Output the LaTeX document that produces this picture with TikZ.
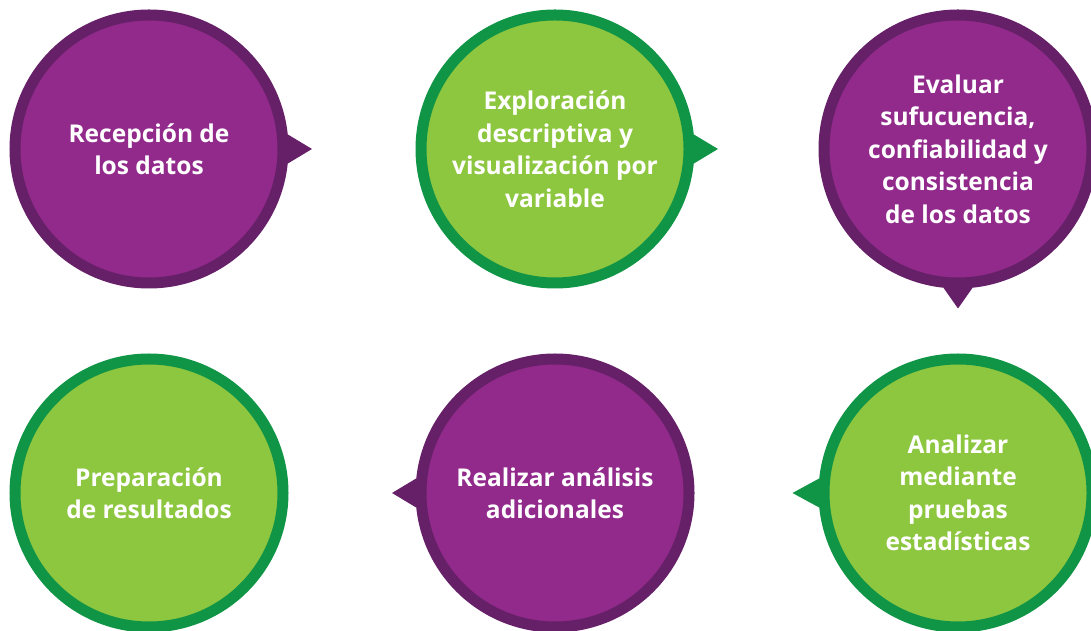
\documentclass[tikz,border=0pt]{standalone}
\usepackage{fontspec}
\setmainfont{Open Sans}
\usepackage{tikz}
\usetikzlibrary{positioning,backgrounds}
\definecolor{lila}{HTML}{922A8C}
\definecolor{lilaosc}{HTML}{662068}
\definecolor{verde}{HTML}{8DC63F}
\definecolor{verdeosc}{HTML}{109547}
\tikzset{font=\bfseries\fontsize{24.5}{32.5}\selectfont}
\tikzset{paso/.style={circle,minimum size=268pt,inner sep=0pt,line width=11pt,
  text=white,align=center}}
\tikzset{lilapaso/.style={paso,fill=lila,draw=lilaosc}}
\tikzset{verdepaso/.style={paso,fill=verde,draw=verdeosc}}

\begin{document}
\begin{tikzpicture}[x=1pt,y=1pt]
\useasboundingbox (0,0) rectangle (1091,631);
\pgfmathsetmacro{\PUNTA}{23.5}
\node[lilapaso] (recepcion) at (149,482) {Recepción de\\los datos};
\node[verdepaso] (exploracion) at (555,482) {Exploración\\descriptiva y\\visualización por\\variable};
\node[lilapaso] (evaluar) at (958,482) {Evaluar\\sufucuencia,\\confiabilidad y\\consistencia\\de los datos};
\node[verdepaso] (analizar) at (958,138) {Analizar\\mediante\\pruebas\\estadísticas};
\node[lilapaso] (adicionales) at (555,138) {Realizar análisis\\adicionales};
\node[verdepaso] (resultados) at (149,138) {Preparación\\de resultados};
% bubble tails, behind the circles
\begin{pgfonlayer}{background}
\fill[lilaosc] (recepcion.6) -- ([xshift=\PUNTA]recepcion.east) -- (recepcion.-6) -- cycle;
\fill[verdeosc] (exploracion.6) -- ([xshift=\PUNTA]exploracion.east) -- (exploracion.-6) -- cycle;
\fill[lilaosc] (evaluar.-84) -- ([yshift=-20]evaluar.south) -- (evaluar.-96) -- cycle;
\fill[verdeosc] (analizar.174) -- ([xshift=-26]analizar.west) -- (analizar.186) -- cycle;
\fill[lilaosc] (adicionales.174) -- ([xshift=-\PUNTA]adicionales.west) -- (adicionales.186) -- cycle;
\end{pgfonlayer}
\end{tikzpicture}
\end{document}
